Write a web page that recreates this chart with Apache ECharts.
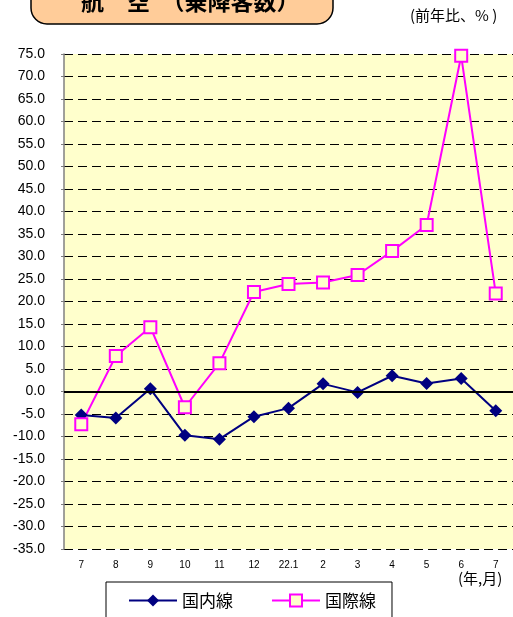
<!DOCTYPE html>
<html><head><meta charset="utf-8">
<script src="https://cdn.jsdelivr.net/npm/echarts@6/dist/echarts.min.js"></script>
<style>html,body{margin:0;padding:0;background:#fff}#c{width:513px;height:617px}</style>
</head><body><div id="c"></div>
<script>
const categories = ['7','8','9','10','11','12','22.1','2','3','4','5','6','7'];
const domestic = [-5.2, -5.9, 0.6, -9.7, -10.6, -5.6, -3.7, 1.7, -0.2, 3.5, 1.8, 2.9, -4.3];
const international = [-7.3, 7.9, 14.3, -3.5, 6.3, 22.1, 23.9, 24.2, 25.9, 31.2, 37.0, 74.6, 21.8];
const seriesNames = ['国内線', '国際線'];
const yMin = -35, yMax = 75, yStep = 5;

const chart = echarts.init(document.getElementById('c'), null, {renderer: 'canvas'});
const font = 'Liberation Sans, Arial, sans-serif';
chart.setOption({
  animation: false,
  textStyle: {fontFamily: font},
  grid: {left: 64, top: 54, width: 450, height: 495, backgroundColor: '#FFFFCC', show: true, borderWidth: 0},
  xAxis: {
    type: 'category', data: categories, boundaryGap: true,
    axisLine: {show: false, onZero: false}, axisTick: {show: false},
    axisLabel: {interval: 0, fontSize: 10, color: '#000', margin: 11, fontFamily: font}
  },
  yAxis: {
    type: 'value', min: yMin, max: yMax, interval: yStep,
    axisLine: {show: true, lineStyle: {color: '#808080', width: 1.5}},
    axisTick: {show: true, inside: false, length: 3, lineStyle: {color: '#808080'}},
    axisLabel: {fontSize: 14, color: '#000', margin: 19, fontFamily: font,
      formatter: v => v.toFixed(1)},
    splitLine: {show: true, lineStyle: {color: '#000', width: 1, type: [9, 5]}}
  },
  legend: {
    left: 106, top: 582,
    itemGap: 38, itemWidth: 48, itemHeight: 15,
    padding: [10, 16, 12, 22],
    borderColor: '#000', borderWidth: 1, backgroundColor: '#fff',
    textStyle: {fontSize: 17, color: '#000', fontFamily: 'Noto Sans CJK JP'},
    data: seriesNames
  },
  series: [
    {
      name: seriesNames[0], type: 'line', data: domestic,
      symbol: 'diamond', symbolSize: 13,
      lineStyle: {color: '#000080', width: 2},
      itemStyle: {color: '#000080'},
      markLine: {silent: true, symbol: 'none', label: {show: false},
        lineStyle: {color: '#000', width: 2, type: 'solid'},
        data: [{yAxis: 0}]}
    },
    {
      name: seriesNames[1], type: 'line', data: international,
      symbol: 'rect', symbolSize: 12,
      lineStyle: {color: '#FF00FF', width: 2},
      itemStyle: {color: '#FFFFCC', borderColor: '#FF00FF', borderWidth: 2}
    }
  ],
  graphic: [
    {type: 'rect', shape: {x: 31, y: -24, width: 302, height: 48, r: 16},
      style: {fill: '#FFCC99', stroke: '#000', lineWidth: 1.5}},
    {type: 'text', left: 81, top: -10,
      style: {text: '航　空　（乗降客数）', font: 'bold 23px "Noto Sans CJK JP"', fill: '#000'}},
    {type: 'text', left: 410, top: 8,
      style: {text: '(前年比、% )', font: '15px "Noto Sans CJK JP"', fill: '#000'}},
    {type: 'text', left: 458, top: 571,
      style: {text: '(年,月)', font: '15px "Noto Sans CJK JP"', fill: '#000'}}
  ]
});
</script></body></html>
